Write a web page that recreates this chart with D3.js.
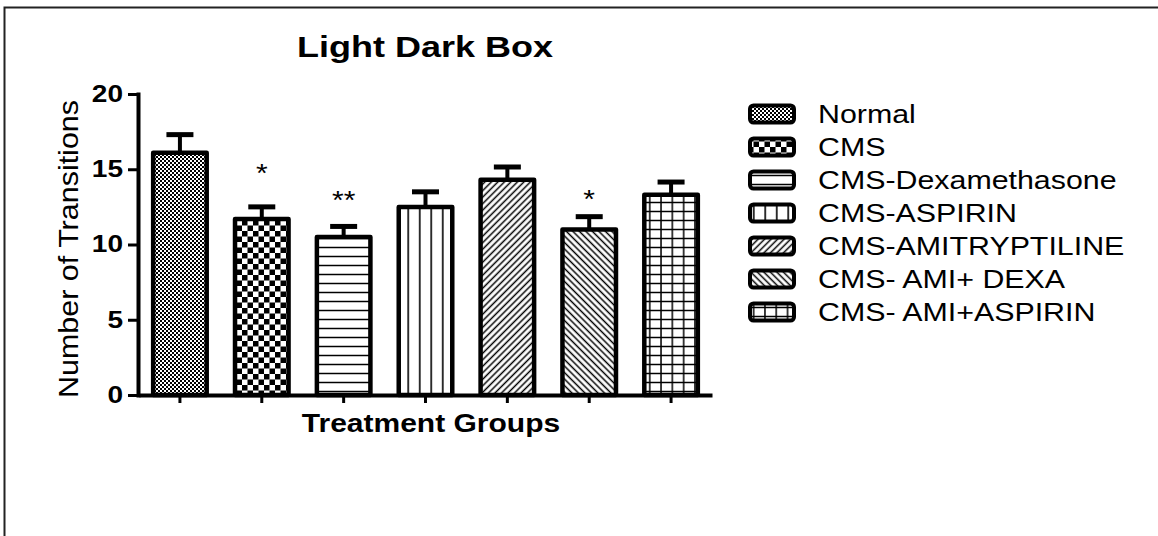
<!DOCTYPE html>
<html>
<head>
<meta charset="utf-8">
<script src="https://cdn.jsdelivr.net/npm/d3@7"></script>
<style>
  html, body { margin: 0; padding: 0; background: #fff; }
  svg { display: block; }
  text { font-family: "Liberation Sans", Arial, sans-serif; fill: #000; }
</style>
</head>
<body>
<svg id="chart" width="1158" height="536"></svg>
<script>
// Light/dark box: number of transitions per treatment group (mean ± SEM)
const groups = ["Normal", "CMS", "CMS-Dexamethasone", "CMS-ASPIRIN",
                "CMS-AMITRYPTILINE", "CMS- AMI+ DEXA", "CMS- AMI+ASPIRIN"];
const means = [16.1, 11.7, 10.5, 12.5, 14.3, 11.0, 13.3];
const sems = [1.2, 0.8, 0.7, 1.0, 0.85, 0.85, 0.85];
const sigMarks = ["", "*", "**", "", "", "*", ""];
const sigLevels = [null, 15.0, 13.2, null, null, 13.3, null];
const yTicks = [0, 5, 10, 15, 20];
const patternIds = ["pNormal", "pCMS", "pDexa", "pAsp", "pAmi", "pAmiDexa", "pAmiAsp"];

const svg = d3.select("#chart");
const W = 1158, H = 536;
const STRETCH = 1.2; // wide lettering used throughout the figure

// widen a text element horizontally around its own anchor
function widen(sel, f) {
  sel.each(function () {
    const len = this.getComputedTextLength();
    if (len > 0) d3.select(this).attr("textLength", len * (f || STRETCH)).attr("lengthAdjust", "spacingAndGlyphs");
  });
}

// ---- fill patterns ----
const defs = svg.append("defs");
function pat(id, w, h, tf) {
  const p = defs.append("pattern").attr("id", id).attr("patternUnits", "userSpaceOnUse")
    .attr("width", w).attr("height", h);
  if (tf) p.attr("patternTransform", tf);
  p.append("rect").attr("width", w).attr("height", h).attr("fill", "#fff");
  return p;
}
// fine checkerboard
let p = pat("pNormal", 4, 4);
p.append("rect").attr("x", 0).attr("y", 0).attr("width", 2).attr("height", 2).attr("fill", "#000");
p.append("rect").attr("x", 2).attr("y", 2).attr("width", 2).attr("height", 2).attr("fill", "#000");
// coarse checkerboard
p = pat("pCMS", 11, 11);
p.append("rect").attr("x", 0).attr("y", 0).attr("width", 5.5).attr("height", 5.5).attr("fill", "#000");
p.append("rect").attr("x", 5.5).attr("y", 5.5).attr("width", 5.5).attr("height", 5.5).attr("fill", "#000");
// horizontal lines
p = pat("pDexa", 10, 9);
p.append("line").attr("x1", 0).attr("x2", 10).attr("y1", 4.5).attr("y2", 4.5).attr("stroke", "#000").attr("stroke-width", 1.5);
// vertical lines
p = pat("pAsp", 11.5, 10);
p.append("line").attr("x1", 5.75).attr("x2", 5.75).attr("y1", 0).attr("y2", 10).attr("stroke", "#000").attr("stroke-width", 1.6);
// forward diagonals
p = pat("pAmi", 4.6, 10, "rotate(45)");
p.append("line").attr("x1", 2.3).attr("x2", 2.3).attr("y1", 0).attr("y2", 10).attr("stroke", "#000").attr("stroke-width", 1.5);
// backward diagonals
p = pat("pAmiDexa", 4.6, 10, "rotate(-45)");
p.append("line").attr("x1", 2.3).attr("x2", 2.3).attr("y1", 0).attr("y2", 10).attr("stroke", "#000").attr("stroke-width", 1.5);
// grid
p = pat("pAmiAsp", 11.3, 9);
p.append("line").attr("x1", 5.65).attr("x2", 5.65).attr("y1", 0).attr("y2", 9).attr("stroke", "#000").attr("stroke-width", 1.5);
p.append("line").attr("x1", 0).attr("x2", 11.3).attr("y1", 4.5).attr("y2", 4.5).attr("stroke", "#000").attr("stroke-width", 1.5);

// ---- frame ----
svg.append("path").attr("d", `M4.5,${H} V7.5 H${W}`).attr("fill", "none")
  .attr("stroke", "#222").attr("stroke-width", 2);

// ---- scales ----
const x = d3.scaleBand().domain(groups).range([139, 712]).paddingInner(0.346).paddingOuter(0.173);
const y = d3.scaleLinear().domain([0, 20]).range([395, 94]);

// ---- bars ----
const g = svg.append("g");
g.selectAll("rect.bar").data(groups).join("rect").attr("class", "bar")
  .attr("x", d => x(d)).attr("width", x.bandwidth())
  .attr("y", (d, i) => y(means[i])).attr("height", (d, i) => y(0) - y(means[i]))
  .attr("fill", (d, i) => `url(#${patternIds[i]})`)
  .attr("stroke", "#000").attr("stroke-width", 4.5).attr("stroke-linejoin", "round");

// error bars (upper half)
const cx = d => x(d) + x.bandwidth() / 2;
g.selectAll("line.err").data(groups).join("line").attr("class", "err")
  .attr("x1", cx).attr("x2", cx)
  .attr("y1", (d, i) => y(means[i])).attr("y2", (d, i) => y(means[i] + sems[i]))
  .attr("stroke", "#000").attr("stroke-width", 4);
g.selectAll("line.cap").data(groups).join("line").attr("class", "cap")
  .attr("x1", d => cx(d) - 13.5).attr("x2", d => cx(d) + 13.5)
  .attr("y1", (d, i) => y(means[i] + sems[i])).attr("y2", (d, i) => y(means[i] + sems[i]))
  .attr("stroke", "#000").attr("stroke-width", 5);

// significance marks
g.selectAll("text.sig").data(groups.filter((d, i) => sigMarks[i])).join("text").attr("class", "sig")
  .attr("x", cx)
  .attr("y", d => y(sigLevels[groups.indexOf(d)]) + 13)
  .attr("text-anchor", "middle").attr("font-size", 25)
  .text(d => sigMarks[groups.indexOf(d)])
  .call(widen);

// ---- axes ----
const yAxis = svg.append("g").attr("transform", "translate(138,0)")
  .call(d3.axisLeft(y).tickValues(yTicks).tickSize(10).tickSizeOuter(0).tickPadding(5));
yAxis.select(".domain").attr("stroke-width", 4).attr("stroke-linecap", "square");
yAxis.selectAll(".tick line").attr("stroke-width", 3);
yAxis.selectAll(".tick text").attr("font-size", 23).attr("font-weight", "bold")
  .attr("font-family", "Liberation Sans, Arial, sans-serif").attr("fill", "#000")
  .call(widen, 1.22);

const xAxis = svg.append("g").attr("transform", "translate(0,395)")
  .call(d3.axisBottom(x).tickFormat("").tickSize(8).tickSizeOuter(0));
xAxis.select(".domain").attr("stroke-width", 4);
xAxis.selectAll(".tick line").attr("stroke-width", 3);

// ---- titles ----
svg.append("text").attr("x", 425).attr("y", 57).attr("text-anchor", "middle")
  .attr("font-size", 30).attr("font-weight", "bold").text("Light Dark Box").call(widen);
svg.append("text").attr("x", 431).attr("y", 432).attr("text-anchor", "middle")
  .attr("font-size", 25).attr("font-weight", "bold").text("Treatment Groups").call(widen);
svg.append("text").attr("transform", "translate(78,249) rotate(-90)").attr("text-anchor", "middle")
  .attr("font-size", 28).text("Number of Transitions")
  .each(function () { d3.select(this).attr("textLength", 298).attr("lengthAdjust", "spacingAndGlyphs"); });

// ---- legend ----
const leg = svg.append("g").attr("transform", "translate(748,114)");
const rows = leg.selectAll("g.row").data(groups).join("g").attr("class", "row")
  .attr("transform", (d, i) => `translate(0,${i * 33})`);
rows.append("rect").attr("x", 2).attr("y", -8.5).attr("width", 44).attr("height", 17)
  .attr("rx", 3.5).attr("fill", (d, i) => `url(#${patternIds[i]})`)
  .attr("stroke", "#000").attr("stroke-width", 4);
rows.append("text").attr("x", 70).attr("y", 9).attr("font-size", 25.5)
  .text(d => d).call(widen, 1.19);
</script>
</body>
</html>
